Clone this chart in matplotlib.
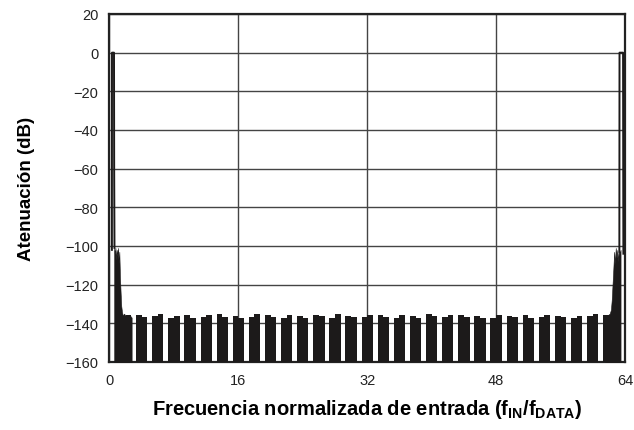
import numpy as np
import matplotlib.pyplot as plt

plt.rcParams['font.family'] = ['Liberation Sans', 'DejaVu Sans']
plt.rcParams['mathtext.fontset'] = 'custom'
plt.rcParams['mathtext.bf'] = 'Liberation Sans:bold'
plt.rcParams['mathtext.rm'] = 'Liberation Sans:bold'
plt.rcParams['mathtext.default'] = 'bf'

# stopband noise bands: centre frequency and top level (left half / right half)
band_f = [2, 4, 6, 8, 10, 12, 14, 16, 18, 20, 22, 24, 26, 28, 30, 32,
          34, 36, 38, 40, 42, 44, 46, 48, 50, 52, 54, 56, 58, 60, 62]
band_top_a = [-136, -135.5, -136, -137, -135.5, -136.5, -135, -136, -136.5, -135.5, -137, -136, -135.5, -137.5, -136, -136.5,
              -135.5, -137, -136, -135, -136.5, -135.5, -136, -137, -136, -135.5, -136.5, -136, -137, -136, -135.5]
band_top_b = [-135.5, -136.5, -135, -136, -137, -135.5, -136.5, -137, -135, -136.5, -135.5, -137, -136, -135, -136.5, -135.5,
              -136.5, -135.5, -137, -136, -135.5, -136.5, -137, -135.5, -136.5, -137, -135.5, -136.5, -136, -135, -136.5]

# passband lobe at 0 and its image at 64
lobe_l_f = [0.30, 0.31, 0.56, 0.58, 0.62]
lobe_l_db = [-102, 0, 0, -60, -101]
lobe_r_f = [63.30, 63.32, 63.76, 63.78, 63.80]
lobe_r_db = [-103, 0, 0, -60, -104]

# skirt between the lobe and the first noise band
skirt_l_f = [0.58, 0.66, 0.74, 0.82, 0.90, 0.98, 1.06, 1.14, 1.22, 1.30, 1.38, 1.46, 1.55, 1.65, 1.80, 2.10, 2.45, 2.75]
skirt_l_db = [-101, -104, -101, -107, -102, -105, -101, -109, -103, -116, -124, -131, -134, -136, -135, -136.5, -135.5, -137]
skirt_r_f = [61.55, 61.80, 62.10, 62.25, 62.35, 62.45, 62.55, 62.65, 62.75, 62.85, 62.95, 63.05, 63.15, 63.25, 63.35, 63.45]
skirt_r_db = [-137, -136, -135, -133, -128, -120, -112, -103, -109, -101, -106, -102, -108, -101, -104, -102]

fig = plt.figure(figsize=(6.34, 4.31), dpi=100)
ax = fig.add_axes([0.1727, 0.1578, 0.8131, 0.8074])

ink = '#1c1a1a'
floor = -160
w = 1.4
for c, ta, tb in zip(band_f, band_top_a, band_top_b):
    x = [c - w / 2, c, c, c + w / 2]
    ax.fill_between(x, [ta, ta, tb, tb], floor, color=ink, lw=0, zorder=3)

ax.fill_between(skirt_l_f, skirt_l_db, floor, color=ink, lw=0.4, edgecolor=ink, zorder=3)
ax.fill_between(skirt_r_f, skirt_r_db, floor, color=ink, lw=0.4, edgecolor=ink, zorder=3)
ax.plot(lobe_l_f, lobe_l_db, color=ink, lw=1.4, zorder=3)
ax.plot(lobe_r_f, lobe_r_db, color=ink, lw=1.4, zorder=3)

ax.set_xlim(0, 64)
ax.set_ylim(-160, 20)
ax.set_xticks([0, 16, 32, 48, 64])
ax.set_yticks(np.arange(-160, 21, 20))
ax.set_yticklabels(['\u2212%d' % -v if v < 0 else '%d' % v for v in np.arange(-160, 21, 20)])
ax.tick_params(length=0, labelsize=10.5, pad=8, colors='#222222')
ax.grid(True, color='#444444', lw=1.0)
ax.set_axisbelow(True)
for s in ax.spines.values():
    s.set_linewidth(1.6)
    s.set_color('#222222')

ax.set_xlabel(r'Frecuencia normalizada de entrada (f$_{IN}$/f$_{DATA}$)',
              fontsize=14.5, fontweight='bold', labelpad=7)
ax.set_ylabel('Atenuación (dB)', fontsize=13.5, fontweight='bold', labelpad=22)

fig.savefig('out.png', dpi=100)
